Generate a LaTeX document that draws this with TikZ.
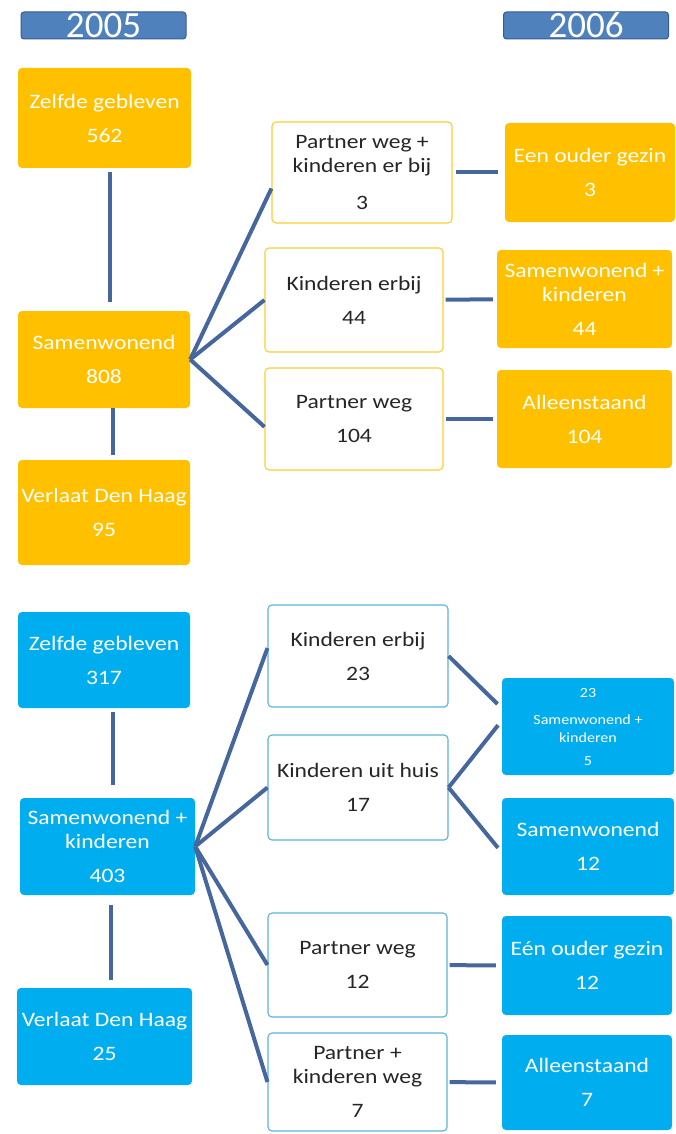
\documentclass[tikz,border=0pt]{standalone}
\usepackage{fontspec}
\setmainfont{Carlito}[FakeStretch=1.15]
\newfontfamily\yearfont{Carlito}
\usepackage{xcolor}
\definecolor{orng}{HTML}{FFC000}
\definecolor{cyanbox}{HTML}{00ADEE}
\definecolor{hdrfill}{HTML}{4F81BD}
\definecolor{hdredge}{HTML}{385D8A}
\definecolor{lnk}{HTML}{46679E}
\definecolor{cyanedge}{HTML}{5AB4D6}

\begin{document}
\begin{tikzpicture}[x=1pt,y=-1pt,
    box/.style={rectangle,rounded corners=4pt,align=center,inner sep=0pt,
                font=\fontsize{20.5}{24}\selectfont},
    orbox/.style={box,fill=orng,text=white},
    blbox/.style={box,fill=cyanbox,text=white},
    orwhite/.style={box,fill=white,draw=orng!80,line width=1.1pt,text=black!85},
    blwhite/.style={box,fill=white,draw=cyanedge,line width=1.1pt,text=black!85},
    year/.style={rectangle,rounded corners=3pt,fill=hdrfill,draw=hdredge,line width=1pt,
                 text=white,inner sep=0pt,minimum width=165pt,minimum height=27pt,
                 font=\yearfont\fontsize{37}{37}\selectfont},
    link/.style={draw=lnk,line width=4pt}]
    \useasboundingbox (0,0) rectangle (675,1134);

    % year headers
    \node[year] (y5) at (103.5,25.5) {2005};
    \node[year] (y6) at (586,25.5) {2006};

    % ---- samenwonend (orange) ----
    \node[orbox,minimum width=173pt,minimum height=100pt] (zelfA) at (104.5,118)
        {Zelfde gebleven\\[10pt]562};
    \node[orbox,minimum width=172pt,minimum height=97pt] (samA) at (104,359.5)
        {Samenwonend\\[10pt]808};
    \node[orbox,minimum width=172pt,minimum height=105pt] (verA) at (104,512.5)
        {Verlaat Den Haag\\[10pt]95};

    \node[orwhite,minimum width=180pt,minimum height=101pt] (pwkA) at (362,172.5)
        {Partner weg +\\kinderen er bij\\[13pt]3};
    \node[orwhite,minimum width=178pt,minimum height=104pt] (kebA) at (354,300)
        {Kinderen erbij\\[10pt]44};
    \node[orwhite,minimum width=178pt,minimum height=102pt] (pwA) at (354,419)
        {Partner weg\\[10pt]104};

    \node[orbox,minimum width=170pt,minimum height=99pt] (eogA) at (590,172.5)
        {Een ouder gezin\\[10pt]3};
    \node[orbox,minimum width=175pt,minimum height=98pt] (swkA) at (584.5,299)
        {Samenwonend +\\kinderen\\[10pt]44};
    \node[orbox,minimum width=175pt,minimum height=98pt] (allA) at (584.5,419)
        {Alleenstaand\\[10pt]104};

    \draw[link,shorten <=4pt,shorten >=9pt] (zelfA.south -| 110,0) -- (samA.north -| 110,0);
    \draw[link,shorten <=0pt,shorten >=5pt] (samA.south -| 113,0) -- (verA.north -| 113,0);
    \draw[link] (samA.east) -- (pwkA.190);
    \draw[link] (samA.east) -- (kebA.west);
    \draw[link] (samA.east) -- (pwA.185);
    \draw[link,shorten <=3pt,shorten >=7pt] (pwkA) -- (eogA);
    \draw[link,shorten <=2pt,shorten >=4pt] (kebA) -- (swkA);
    \draw[link,shorten <=2pt,shorten >=4pt] (pwA) -- (allA);

    % ---- samenwonend + kinderen (blue) ----
    \node[blbox,minimum width=172pt,minimum height=96pt] (zelfB) at (104,660)
        {Zelfde gebleven\\[10pt]317};
    \node[blbox,minimum width=175pt,minimum height=97pt] (swkB) at (107.5,846.5)
        {Samenwonend +\\kinderen\\[10pt]403};
    \node[blbox,minimum width=175pt,minimum height=97pt] (verB) at (104.5,1036.5)
        {Verlaat Den Haag\\[10pt]25};

    \node[blwhite,minimum width=180pt,minimum height=102pt] (kebB) at (358,656)
        {Kinderen erbij\\[10pt]23};
    \node[blwhite,minimum width=180pt,minimum height=105pt] (kuhB) at (358,787.5)
        {Kinderen uit huis\\[10pt]17};
    \node[blwhite,minimum width=179pt,minimum height=104pt] (pwB) at (357.5,965)
        {Partner weg\\[10pt]12};
    \node[blwhite,minimum width=179pt,minimum height=98pt] (pkwB) at (357.5,1082)
        {Partner +\\kinderen weg\\[10pt]7};

    \node[blbox,minimum width=172pt,minimum height=97pt,
          font=\fontsize{14}{18}\selectfont] (swkC) at (588,726.5)
        {23\\[9pt]Samenwonend +\\kinderen\\[5pt]5};
    \node[blbox,minimum width=172pt,minimum height=97pt] (samC) at (588,846.5)
        {Samenwonend\\[10pt]12};
    \node[blbox,minimum width=170pt,minimum height=99pt] (eogB) at (587,965.5)
        {Eén ouder gezin\\[10pt]12};
    \node[blbox,minimum width=170pt,minimum height=95pt] (allB) at (587,1082.5)
        {Alleenstaand\\[10pt]7};

    \draw[link,shorten <=4pt,shorten >=13pt] (zelfB.south -| 113,0) -- (swkB.north -| 113,0);
    \draw[link,shorten <=10pt,shorten >=8pt] (swkB.south -| 111,0) -- (verB.north -| 111,0);
    \draw[link] (swkB.east) -- (kebB.175);
    \draw[link] (swkB.east) -- (kuhB.west);
    \draw[link] (swkB.east) -- (pwB.west);
    \draw[link] (swkB.east) -- (pkwB.west);
    \draw[link,shorten >=6pt] (kebB.east) -- (swkC.168);
    \draw[link,shorten >=6pt] (kuhB.east) -- (swkC.176);
    \draw[link,shorten >=6pt] (kuhB.east) -- (samC.184);
    \draw[link,shorten <=2pt,shorten >=6pt] (pwB) -- (eogB);
    \draw[link,shorten <=2pt,shorten >=6pt] (pkwB) -- (allB);
\end{tikzpicture}
\end{document}
